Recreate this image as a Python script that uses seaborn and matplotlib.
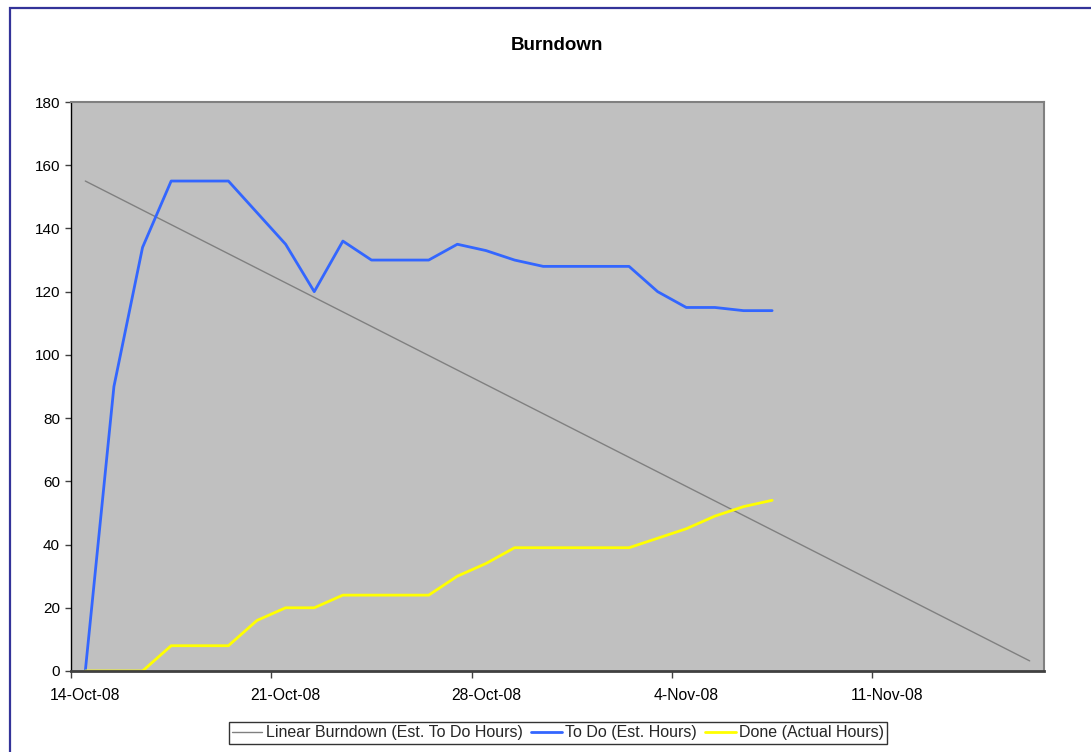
import matplotlib
matplotlib.use("Agg")
import matplotlib.pyplot as plt
import matplotlib.patches as mpatches
import pandas as pd
import seaborn as sns

# --- data ---
START_DATE = "2008-10-14"
N_DAYS = 34

linear_burndown = [
    155, 150.4, 145.8, 141.2, 136.6, 132, 127.4, 122.8, 118.2, 113.6,
    109, 104.4, 99.8, 95.2, 90.6, 86, 81.4, 76.8, 72.2, 67.6,
    63, 58.4, 53.8, 49.2, 44.6, 40, 35.4, 30.8, 26.2, 21.6,
    17, 12.4, 7.8, 3.2,
]
todo_hours = [
    0, 90, 134, 155, 155, 155, 145, 135, 120, 136,
    130, 130, 130, 135, 133, 130, 128, 128, 128, 128,
    120, 115, 115, 114, 114,
]
done_hours = [
    0, 0, 0, 8, 8, 8, 16, 20, 20, 24,
    24, 24, 24, 30, 34, 39, 39, 39, 39, 39,
    42, 45, 49, 52, 54,
]
tick_labels = ["14-Oct-08", "21-Oct-08", "28-Oct-08", "4-Nov-08", "11-Nov-08"]
y_ticks = [0, 20, 40, 60, 80, 100, 120, 140, 160, 180]

series_names = [
    "Linear Burndown (Est. To Do Hours)",
    "To Do (Est. Hours)",
    "Done (Actual Hours)",
]
series_colors = ["#808080", "#3366FF", "#FFFF00"]
series_widths = [1.0, 2.0, 2.0]

all_days = pd.date_range(START_DATE, periods=N_DAYS, freq="D")
frames = []
for name, vals in zip(series_names, [linear_burndown, todo_hours, done_hours]):
    frames.append(pd.DataFrame({"date": all_days[: len(vals)], "hours": vals, "series": name}))
df = pd.concat(frames, ignore_index=True)

sns.set_theme(style="white")
plt.rcParams["font.family"] = ["Liberation Sans", "DejaVu Sans"]

W, H = 1091, 752
fig = plt.figure(figsize=(W / 100, H / 100), dpi=100)
fig.patch.set_facecolor("white")

ax = fig.add_axes([71 / W, 1 - 671 / H, (1044 - 71) / W, (671 - 102) / H])
ax.set_facecolor("#C0C0C0")

for name, color, lw in zip(series_names, series_colors, series_widths):
    sns.lineplot(
        data=df[df["series"] == name],
        x="date",
        y="hours",
        color=color,
        linewidth=lw,
        label=name,
        ax=ax,
        legend=False,
    )

half_day = pd.Timedelta(hours=12)
ax.set_xlim(all_days[0] - half_day, all_days[-1] + half_day)
ax.set_ylim(0, 180)
ax.set_yticks(y_ticks)
ax.set_yticklabels([str(v) for v in y_ticks], fontsize=11, color="black")

# labels on day centres, tick marks on the week boundaries (Excel style)
label_days = pd.date_range(START_DATE, periods=len(tick_labels), freq="7D")
ax.set_xticks(label_days)
ax.set_xticklabels(tick_labels, fontsize=11.3, color="black")
ax.set_xticks(label_days - half_day, minor=True)
ax.tick_params(axis="x", which="major", length=0, pad=12)
ax.tick_params(axis="x", which="minor", direction="out", length=5, width=1,
               color="#404040", bottom=True)
ax.tick_params(axis="y", which="major", direction="out", length=4, width=1,
               color="#404040", left=True, pad=4)
ax.set_xlabel("")
ax.set_ylabel("")

ax.spines["left"].set_color("black")
ax.spines["left"].set_linewidth(1.0)
ax.spines["bottom"].set_color("#404040")
ax.spines["bottom"].set_linewidth(2.0)
for side in ["top", "right"]:
    ax.spines[side].set_color("#808080")
    ax.spines[side].set_linewidth(1.5)

fig.text(557 / W, 1 - 46 / H, "Burndown", ha="center", va="center",
         fontsize=13.5, fontweight="bold", color="black")

handles, labels = ax.get_legend_handles_labels()
leg = fig.legend(
    handles, labels,
    loc="center",
    bbox_to_anchor=(558 / W, 1 - 733 / H),
    ncol=3,
    fontsize=11.5,
    frameon=True,
    fancybox=False,
    handlelength=1.9,
    handletextpad=0.2,
    columnspacing=0.55,
    borderpad=0.2,
    borderaxespad=0,
)
leg.get_frame().set_edgecolor("black")
leg.get_frame().set_linewidth(1.0)

# chart area border (navy), cut off on the right and bottom as in the reference
fig.patches.append(mpatches.Rectangle(
    (10 / W, -0.1), 1.2, 1.1 - 8 / H,
    transform=fig.transFigure, fill=False, edgecolor="#333399", linewidth=1.6,
))

fig.savefig("out.png", dpi=100)
plt.close(fig)
